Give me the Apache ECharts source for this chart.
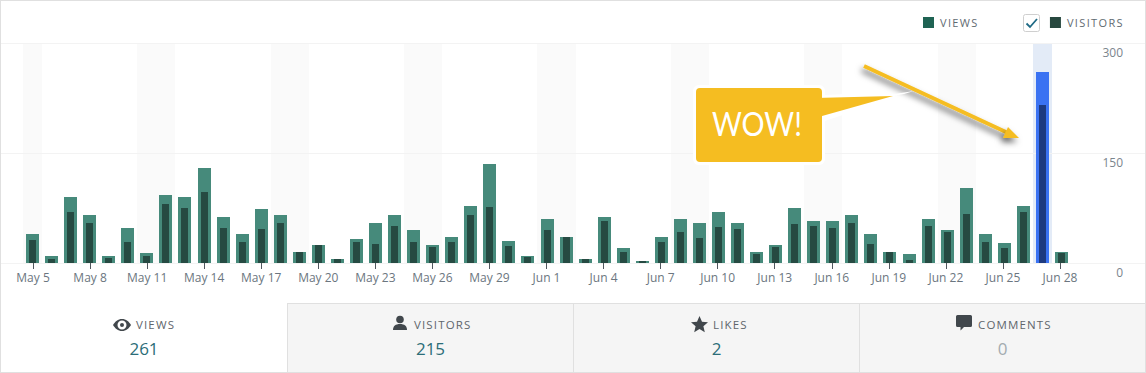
<!DOCTYPE html>
<html><head><meta charset="utf-8">
<style>
html,body{margin:0;padding:0;background:#fff;overflow:hidden}
#wrap{position:relative;width:1146px;height:373px;font-family:"Open Sans",sans-serif}
#chart{position:absolute;left:0;top:0;width:1146px;height:373px}
#chart path[fill="#468a7b"],#chart path[fill="#264a42"],#chart path[fill="#3a72f2"],#chart path[fill="#1d3a80"],#chart path[fill="#fafafa"],#chart path[fill="#e3ebf7"]{shape-rendering:crispEdges}
#frame{position:absolute;left:0;top:0;width:1146px;height:373px;box-sizing:border-box;border:1px solid #e0e0e0;pointer-events:none}
.tab{position:absolute;top:303px;height:69px;box-sizing:border-box;background:#f5f5f5;border-top:1px solid #e0e0e0;border-left:1px solid #e0e0e0;text-align:center}
.tab.first{background:#fff;border:0;}
.lab{position:absolute;top:14px;font-size:11.5px;letter-spacing:1.15px;color:#5f666c;line-height:16px;white-space:nowrap}
.tab:not(.first) .lab{top:13px}
.val{position:absolute;left:0;right:0;top:34px;font-size:17px;line-height:24px;color:#2c6d78}
.tab:not(.first) .val{top:33px}
.ic{position:absolute}
</style></head><body>
<div id="wrap">
<div id="chart"></div>
<svg class="ic" style="left:1023px;top:14px" width="18" height="18" viewBox="0 0 18 18"><rect x=".5" y=".5" width="16" height="17" rx="2" fill="#fff" stroke="#cfcfcf"/><path d="M3.5 9.5 L7 13 L14 5" fill="none" stroke="#1f6a85" stroke-width="1.8"/></svg>
<div class="tab first" id="tabs0" style="left:0;width:288px"><svg class="ic" style="left:113px;top:15px" width="18" height="14" viewBox="0 0 18 14"><path fill-rule="evenodd" fill="#41474c" d="M9 1C5 1 2 3.6 0 7c2 3.4 5 6 9 6s7-2.600 9-6c-2-3.400-5-6-9-6zM9 2.500A4.500 4.500 0 1 1 9 11.500A4.500 4.500 0 0 1 9 2.500zM9 5A2 2 0 1 0 9 9A2 2 0 0 0 9 5z"/></svg><span class="lab" style="left:136px">VIEWS</span><div class="val">261</div></div>
<div class="tab" style="left:287px;width:286px"><svg class="ic" style="left:105px;top:11px" width="14" height="16" viewBox="0 0 14 16"><circle cx="7" cy="4.500" r="3.800" fill="#41474c"/><path fill="#41474c" d="M0 15c0-4 2.500-6 7-6s7 2 7 6z"/></svg><span class="lab" style="left:126px">VISITORS</span><div class="val">215</div></div>
<div class="tab" style="left:573px;width:286px"><svg class="ic" style="left:117px;top:12px" width="17" height="17" viewBox="0 0 17 17"><path fill="#41474c" d="M8.500 0l2.500 5.800 6 .5-4.600 4 1.400 6-5.300-3.200-5.300 3.200 1.400-6L0 6.300l6-.5z"/></svg><span class="lab" style="left:139px">LIKES</span><div class="val">2</div></div>
<div class="tab" style="left:859px;width:286px"><svg class="ic" style="left:96px;top:11px" width="16" height="16" viewBox="0 0 16 16"><path fill="#41474c" d="M1.500 0h13A1.500 1.500 0 0 1 16 1.500v9a1.500 1.500 0 0 1-1.500 1.500H8l-3.500 3.500V12h-3A1.500 1.500 0 0 1 0 10.500v-9A1.500 1.500 0 0 1 1.500 0z"/></svg><span class="lab" style="left:118px">COMMENTS</span><div class="val" style="color:#a3abb0">0</div></div>
<div id="frame"></div>
</div>
<script src="https://cdn.jsdelivr.net/npm/echarts@6/dist/echarts.min.js"></script>
<script>
const categories = ['May 5','May 6','May 7','May 8','May 9','May 10','May 11','May 12','May 13','May 14','May 15','May 16','May 17','May 18','May 19','May 20','May 21','May 22','May 23','May 24','May 25','May 26','May 27','May 28','May 29','May 30','May 31','Jun 1','Jun 2','Jun 3','Jun 4','Jun 5','Jun 6','Jun 7','Jun 8','Jun 9','Jun 10','Jun 11','Jun 12','Jun 13','Jun 14','Jun 15','Jun 16','Jun 17','Jun 18','Jun 19','Jun 20','Jun 21','Jun 22','Jun 23','Jun 24','Jun 25','Jun 26','Jun 27','Jun 28'];
const views = [40,10,90,66,10,48,13,93,90,130,63,40,73,66,15,25,6,33,55,66,45,25,35,78,135,30,10,60,35,5,63,20,3,35,60,55,70,55,15,25,75,57,57,65,40,15,12,60,45,102,40,27,78,261,15];
const visitors = [32,6,70,55,7,29,10,81,75,97,48,29,47,54,15,25,6,28,26,51,29,22,29,65,76,23,8,45,35,5,57,15,3,29,42,34,49,46,12,22,53,50,48,55,26,15,4,50,42,67,29,20,70,215,14];
const weekendDays = ['May 5','May 11','May 12','May 18','May 19','May 25','May 26','Jun 1','Jun 2','Jun 8','Jun 9','Jun 15','Jun 16','Jun 22','Jun 23'];
const highlightDay = 'Jun 27';
const yMax = 300;
const yStep = 150;
const legendNames = ['VIEWS','VISITORS'];

const GT = 43, GH = 220;
const hi = c => c === highlightDay;
const bandData = categories.map(c => hi(c) ? {value:yMax,itemStyle:{color:'#e3ebf7'}} : (weekendDays.includes(c) ? yMax : null));
const viewData = categories.map((c,i) => hi(c) ? {value:views[i],itemStyle:{color:'#3a72f2'}} : views[i]);
const visData = categories.map((c,i) => hi(c) ? {value:visitors[i],itemStyle:{color:'#1d3a80'}} : visitors[i]);
const hidden = g => ({type:'category',gridIndex:g,data:categories,show:false});
const hiddenY = g => ({type:'value',gridIndex:g,min:0,max:yMax,interval:yStep,show:false});
const chart = echarts.init(document.getElementById('chart'),null,{renderer:'svg'});
const Y = '#f5bd21';
const SH = {shadowBlur:6,shadowColor:'rgba(0,0,0,.6)',shadowOffsetX:-2,shadowOffsetY:4};
chart.setOption({
  animation:false,
  textStyle:{fontFamily:'"Open Sans",sans-serif'},
  legend:{left:923,top:17,padding:0,itemWidth:11,itemHeight:11,itemGap:78,selectedMode:false,icon:'rect',
    textStyle:{fontSize:11,color:'#5f6b72',padding:[0,0,0,1]},
    data:[{name:legendNames[0],itemStyle:{color:'#1f6353'}},{name:legendNames[1],itemStyle:{color:'#27483f'}}]},
  grid:[
    {left:23,top:GT,width:1048,height:GH},
    {left:23,top:GT,width:1048,height:GH},
    {left:1,top:GT,right:1,height:GH},
    {left:23.5,top:GT,width:1046,height:GH}
  ],
  xAxis:[
    hidden(0), hidden(0), hidden(1),
    {type:'category',gridIndex:2,data:[''],show:false},
    {type:'category',gridIndex:3,data:categories,position:'bottom',axisLine:{show:false},
     axisTick:{show:true,interval:2,alignWithLabel:true,length:6,lineStyle:{color:'#50575e'}},
     axisLabel:{interval:2,fontSize:12,color:'#6b7680',margin:8}}
  ],
  yAxis:[hiddenY(0),hiddenY(1),
    {type:'value',gridIndex:2,position:'right',min:0,max:yMax,interval:yStep,
     axisLine:{show:false},axisTick:{show:false},
     splitLine:{show:true,lineStyle:{color:'#f3f3f3',width:1}},
     axisLabel:{inside:true,margin:22,color:'#7b858d',fontSize:12,verticalAlign:'top',padding:[3,0,0,0],align:'right'}},
    hiddenY(3)
  ],
  series:[
    {name:'band',type:'bar',xAxisIndex:2,yAxisIndex:1,data:bandData,barWidth:'100%',itemStyle:{color:'#fafafa'},silent:true,z:-1},
    {name:legendNames[0],type:'bar',xAxisIndex:0,yAxisIndex:0,data:viewData,barWidth:13,itemStyle:{color:'#468a7b'},z:2},
    {name:legendNames[1],type:'bar',xAxisIndex:1,yAxisIndex:0,data:visData,barWidth:7,itemStyle:{color:'#264a42'},z:3}
  ],
  graphic:{elements:[
    {type:'rect',z:50,shape:{x:693,y:85,width:132,height:80,r:6},style:{fill:'#fff'}},
    {type:'polygon',z:50,shape:{points:[[825,95],[914,91],[825,121]]},style:{fill:'#fff'}},
    {type:'polyline',z:52,shape:{points:[[864,66],[1008,133]]},style:{stroke:Y,lineWidth:4,fill:null,...SH}},
    {type:'polygon',z:52,shape:{points:[[1008,127],[1019,138],[1003,138]]},style:{fill:Y,...SH}},
    {type:'polygon',z:53,shape:{points:[[815,98],[893,96],[815,118]]},style:{fill:Y}},
    {type:'polygon',z:53,shape:{points:[[888,95],[914,91],[904,94],[893,96]]},style:{fill:'#fff'}},
    {type:'rect',z:54,shape:{x:696,y:88,width:126,height:74,r:4},style:{fill:Y}},
    {type:'text',z:55,x:757,y:123,scaleX:.9,style:{text:'WOW!',fill:'#fff',font:'400 32px Lato, sans-serif',align:'center',verticalAlign:'middle'}}
  ]}
});
function spaceLegend(){
  chart.getDom().querySelectorAll('text').forEach(t=>{ if(legendNames.includes(t.textContent.trim())) t.style.letterSpacing='1.35px'; });
}
chart.on('finished',spaceLegend); spaceLegend();
</script>
</body></html>
